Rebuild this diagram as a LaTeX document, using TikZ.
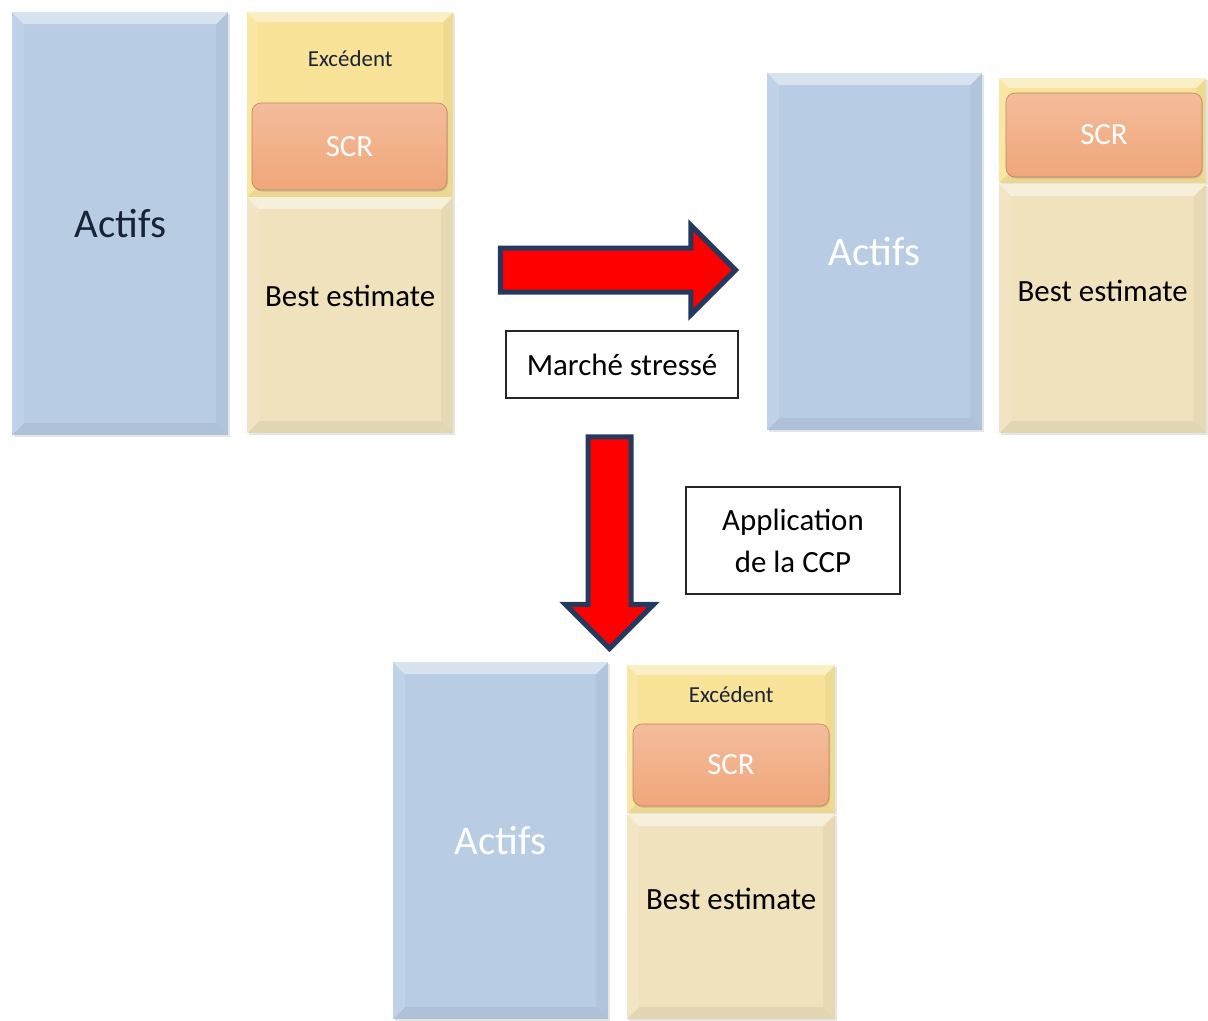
\documentclass[tikz,border=0pt]{standalone}
\usepackage{fontspec}
\setmainfont{Carlito}
\usetikzlibrary{positioning,shapes.arrows,shadows}
\definecolor{actblue}{RGB}{184,204,228}
\definecolor{surplusyel}{RGB}{249,227,152}
\definecolor{scrorange}{RGB}{240,166,122}
\definecolor{bebeige}{RGB}{240,226,188}
\definecolor{arrownavy}{RGB}{35,58,94}
\definecolor{inkdark}{RGB}{24,36,54}

\begin{document}
\begin{tikzpicture}[
    x=1bp,y=-1bp,
    % raised look of the balance sheet blocks
    bevel/.style={path picture={
      \path (path picture bounding box.north west) coordinate (bv1)
            (path picture bounding box.north east) coordinate (bv2)
            (path picture bounding box.south east) coordinate (bv3)
            (path picture bounding box.south west) coordinate (bv4);
      \fill[white,opacity=.45] (bv1) -- (bv2) -- ([xshift=-#1,yshift=-#1]bv2)
        -- ([xshift=#1,yshift=-#1]bv1) -- cycle;
      \fill[white,opacity=.12] (bv1) -- ([xshift=#1,yshift=-#1]bv1)
        -- ([xshift=#1,yshift=#1]bv4) -- (bv4) -- cycle;
      \fill[black,opacity=.04] (bv2) -- (bv3) -- ([xshift=-#1,yshift=#1]bv3)
        -- ([xshift=-#1,yshift=-#1]bv2) -- cycle;
      \fill[black,opacity=.05] (bv4) -- (bv3) -- ([xshift=-#1,yshift=#1]bv3)
        -- ([xshift=#1,yshift=#1]bv4) -- cycle;
    }},
    block/.style={rectangle,inner sep=0pt,anchor=north west,
      drop shadow={shadow xshift=1.5bp,shadow yshift=-1.5bp,opacity=.2}},
    actifs/.style={block,fill=actblue,bevel=12bp},
    surplus/.style={block,fill=surplusyel,bevel=10bp},
    bestest/.style={block,fill=bebeige,bevel=12bp},
    scrbox/.style={rectangle,rounded corners=9bp,inner sep=0pt,
      top color=scrorange!75!white,bottom color=scrorange,
      draw=scrorange!80!black,line width=.6bp,
      drop shadow={shadow xshift=1bp,shadow yshift=-1.5bp,opacity=.3}},
    bigtext/.style={font=\fontsize{41}{49}\selectfont},
    midtext/.style={font=\fontsize{31}{37}\selectfont},
    smalltext/.style={font=\fontsize{23}{28}\selectfont,text=inkdark},
    notebox/.style={draw=black!85,line width=1.2bp,fill=white,inner sep=0pt,
      align=center,font=\fontsize{31}{42}\selectfont},
    bigarrow/.style={single arrow,single arrow head extend=22.5bp,
      fill=red,draw=arrownavy,line width=5bp,inner xsep=0pt,anchor=tip}
  ]
  \useasboundingbox (0,0) rectangle (1208,1021);

  % before the shock
  \node[actifs,minimum width=216bp,minimum height=423bp] (actA) at (12,12) {};
  \node[bigtext,text=inkdark] (actAtxt) at (actA.center) {Actifs};
  \node[surplus,minimum width=206bp,minimum height=185bp] (excA) at (247,12) {};
  \node[smalltext] (excAtxt) at ([yshift=-47bp]excA.north) {Excédent};
  \node[scrbox,minimum width=195bp,minimum height=87bp] (scrA) at (349.5,146.5) {};
  \node[midtext,text=white] (scrAtxt) at (scrA.center) {SCR};
  \node[bestest,minimum width=206bp,minimum height=236bp] (beA) at (247,197) {};
  \node[midtext,text=black] (beAtxt) at ([yshift=19bp]beA.center) {Best estimate};

  % stressed market
  \node[actifs,minimum width=215bp,minimum height=357bp] (actB) at (767,73) {};
  \node[bigtext,text=white] (actBtxt) at (actB.center) {Actifs};
  \node[surplus,minimum width=207bp,minimum height=105bp] (excB) at (999,78) {};
  \node[scrbox,minimum width=196bp,minimum height=84bp] (scrB) at (1104,135) {};
  \node[midtext,text=white] (scrBtxt) at (scrB.center) {SCR};
  \node[bestest,minimum width=207bp,minimum height=249bp] (beB) at (999,184) {};
  \node[midtext,text=black] (beBtxt) at ([yshift=18bp]beB.center) {Best estimate};

  % after the CCP
  \node[actifs,minimum width=215bp,minimum height=357bp] (actC) at (393,662) {};
  \node[bigtext,text=white] (actCtxt) at (actC.center) {Actifs};
  \node[surplus,minimum width=208bp,minimum height=148bp] (excC) at (627,665) {};
  \node[smalltext] (excCtxt) at ([yshift=-30bp]excC.north) {Excédent};
  \node[scrbox,minimum width=196bp,minimum height=82bp] (scrC) at (731,765) {};
  \node[midtext,text=white] (scrCtxt) at (scrC.center) {SCR};
  \node[bestest,minimum width=208bp,minimum height=205bp] (beC) at (627,814) {};
  \node[midtext,text=black] (beCtxt) at ([yshift=18bp]beC.center) {Best estimate};

  % transitions
  \node[bigarrow,minimum height=235bp,inner ysep=19.5bp] (shock) at (739,270) {};
  \node[notebox,minimum width=232bp,minimum height=67bp] (shocktxt) at (622,364.5) {Marché stressé};
  \node[bigarrow,rotate=-90,minimum height=211.5bp,inner ysep=19bp] (ccp) at (609.5,652) {};
  \node[notebox,minimum width=214bp,minimum height=107bp] (ccptxt) at (793,540.5) {Application\\de la CCP};
\end{tikzpicture}
\end{document}
